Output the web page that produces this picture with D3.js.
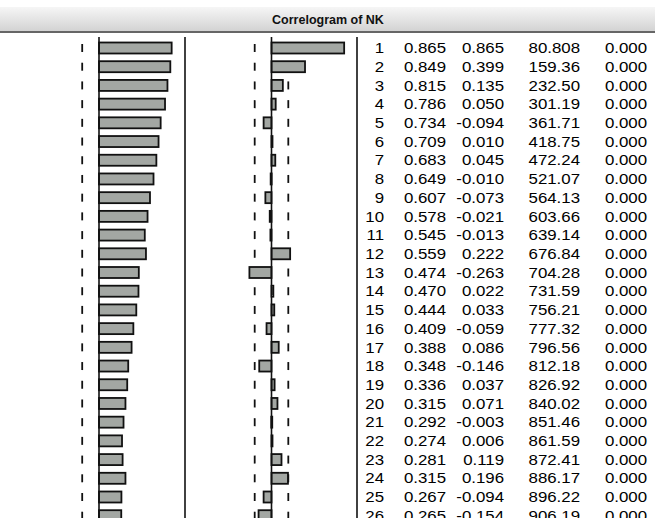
<!DOCTYPE html>
<html><head><meta charset="utf-8">
<script src="https://cdn.jsdelivr.net/npm/d3@7"></script>
<style>
html,body{margin:0;padding:0;background:#fff;}
svg{display:block;}
text{font-family:Arial,"Liberation Sans",sans-serif;}
</style></head>
<body>
<svg id="c" width="655" height="518"></svg>
<script>
const title = "Correlogram of NK";
const lags = [1,2,3,4,5,6,7,8,9,10,11,12,13,14,15,16,17,18,19,20,21,22,23,24,25,26];
const ac = [0.865,0.849,0.815,0.786,0.734,0.709,0.683,0.649,0.607,0.578,0.545,0.559,0.474,0.470,0.444,0.409,0.388,0.348,0.336,0.315,0.292,0.274,0.281,0.315,0.267,0.265];
const pac = [0.865,0.399,0.135,0.050,-0.094,0.010,0.045,-0.010,-0.073,-0.021,-0.013,0.222,-0.263,0.022,0.033,-0.059,0.086,-0.146,0.037,0.071,-0.003,0.006,0.119,0.196,-0.094,-0.154];
const qstat = ["80.808","159.36","232.50","301.19","361.71","418.75","472.24","521.07","564.13","603.66","639.14","676.84","704.28","731.59","756.21","777.32","796.56","812.18","826.92","840.02","851.46","861.59","872.41","886.17","896.22","906.19"];
const prob = ["0.000","0.000","0.000","0.000","0.000","0.000","0.000","0.000","0.000","0.000","0.000","0.000","0.000","0.000","0.000","0.000","0.000","0.000","0.000","0.000","0.000","0.000","0.000","0.000","0.000","0.000"];
const bound = 0.2;

const svg = d3.select("#c");
const W = 655, H = 518;

// title bar
const defs = svg.append("defs");
const g = defs.append("linearGradient").attr("id","tb").attr("x1",0).attr("y1",0).attr("x2",0).attr("y2",1);
g.append("stop").attr("offset","0%").attr("stop-color","#f6f6f6");
g.append("stop").attr("offset","100%").attr("stop-color","#d3d3d3");
svg.append("rect").attr("x",0).attr("y",7).attr("width",W).attr("height",24).attr("fill","url(#tb)");
svg.append("text").attr("x",328).attr("y",24).attr("text-anchor","middle")
  .attr("font-size",12.5).attr("font-weight","bold").attr("fill","#111").text(title);
svg.append("line").attr("x1",0).attr("x2",W).attr("y1",32).attr("y2",32).attr("stroke","#333").attr("stroke-width",1.5);

const xAC = d3.scaleLinear().domain([-1,1]).range([15,183]);
const xPAC = d3.scaleLinear().domain([-1,1]).range([187.5,355.5]);
const y = d3.scaleLinear().domain([1,25]).range([48,497]);
const bh = 11;

// dashed bounds (one short dash per row)
[[xAC,-bound],[xAC,bound],[xPAC,-bound],[xPAC,bound]].forEach(([sx,b])=>{
  svg.append("g").selectAll("line").data(lags).join("line")
    .attr("x1",sx(b)).attr("x2",sx(b))
    .attr("y1",d=>y(d)-4).attr("y2",d=>y(d)+4)
    .attr("stroke","#111").attr("stroke-width",1.8);
});

function bars(sx, vals){
  svg.append("g").selectAll("rect").data(vals).join("rect")
    .attr("x",d=>Math.min(sx(0),sx(d)))
    .attr("width",d=>Math.max(1,Math.abs(sx(d)-sx(0))))
    .attr("y",(d,i)=>y(lags[i])-bh/2)
    .attr("height",bh)
    .attr("fill","#a3a7a3").attr("stroke","#111").attr("stroke-width",1.8);
}
bars(xAC, ac);
bars(xPAC, pac);

// vertical solid lines
[xAC(0), 185, xPAC(0), 357].forEach(x=>{
  svg.append("line").attr("x1",x).attr("x2",x).attr("y1",37).attr("y2",H)
    .attr("stroke","#111").attr("stroke-width",1.6);
});

// table
const cols = [
  {x:384, f:(d,i)=>String(lags[i])},
  {x:446, f:(d,i)=>ac[i].toFixed(3)},
  {x:504, f:(d,i)=>pac[i].toFixed(3)},
  {x:580, f:(d,i)=>qstat[i]},
  {x:647, f:(d,i)=>prob[i]}
];
cols.forEach(c=>{
  svg.append("g").selectAll("text").data(lags).join("text")
    .attr("text-anchor","end")
    .attr("transform",(d)=>`translate(${c.x},${y(d)+5.2}) scale(1.22,1)`)
    .attr("font-size",13.8).attr("fill","#000")
    .text(c.f);
});
</script>
</body></html>
